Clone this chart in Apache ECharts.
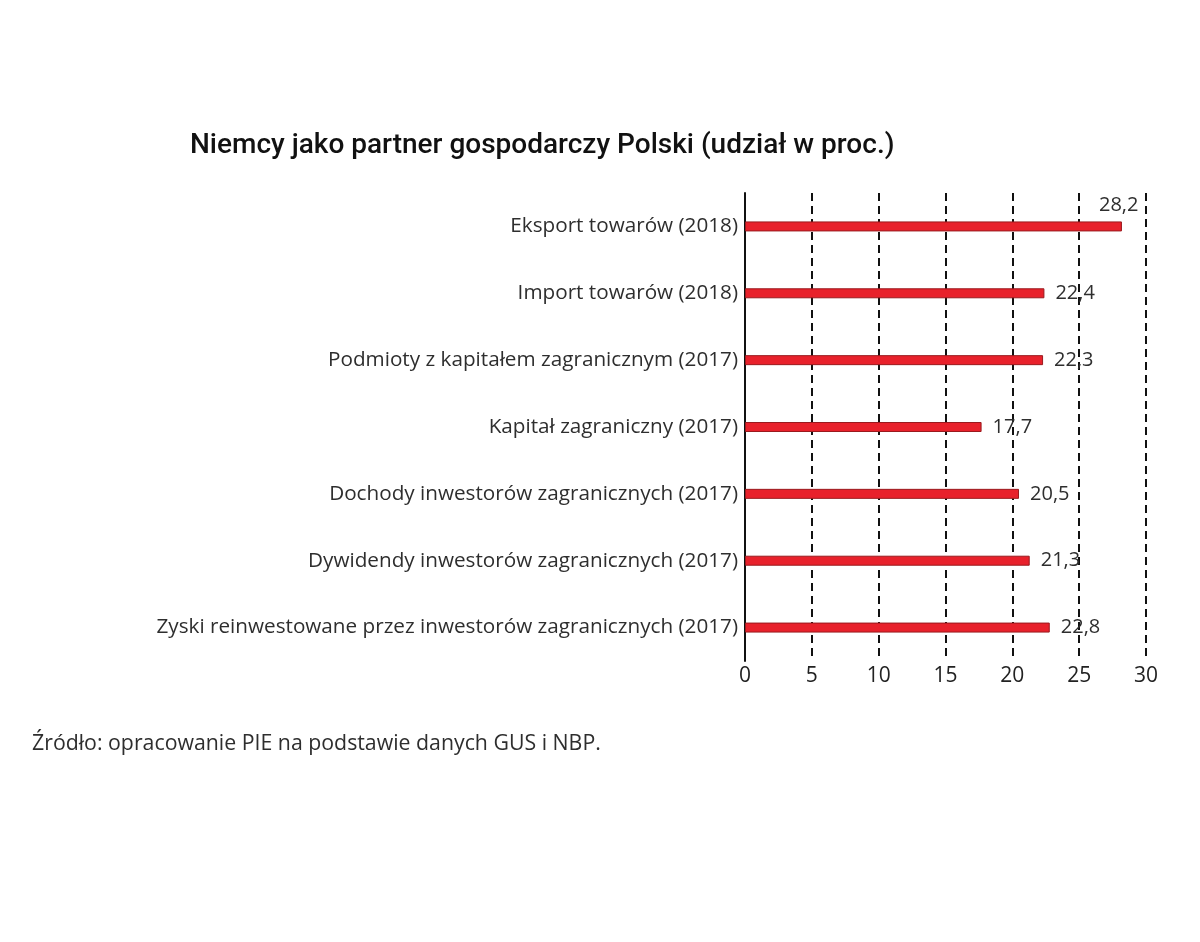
<!DOCTYPE html>
<html>
<head>
<meta charset="utf-8">
<script src="https://cdn.jsdelivr.net/npm/echarts@6/dist/echarts.min.js"></script>
<style>
html,body{margin:0;padding:0;background:#fff;}
#chart{width:1200px;height:942px;}
</style>
</head>
<body>
<div id="chart"></div>
<script>
const categories = [
  'Eksport towarów (2018)',
  'Import towarów (2018)',
  'Podmioty z kapitałem zagranicznym (2017)',
  'Kapitał zagraniczny (2017)',
  'Dochody inwestorów zagranicznych (2017)',
  'Dywidendy inwestorów zagranicznych (2017)',
  'Zyski reinwestowane przez inwestorów zagranicznych (2017)'
];
const values = [28.2, 22.4, 22.3, 17.7, 20.5, 21.3, 22.8];
const titleText = 'Niemcy jako partner gospodarczy Polski (udział w proc.)';
const sourceText = 'Źródło: opracowanie PIE na podstawie danych GUS i NBP.';

const chart = echarts.init(document.getElementById('chart'));
const barData = values.map((v, i) => {
  const item = { value: v };
  if (i === 0) {
    item.label = { offset: [-34, -21] };
  }
  return item;
});
chart.setOption({
  backgroundColor: '#ffffff',
  animation: false,
  title: [{
    text: titleText,
    left: 185, top: 127,
    textStyle: { fontFamily: 'Roboto', fontWeight: 500, fontSize: 28, color: '#111' }
  }, {
    text: sourceText,
    left: 27, top: 728,
    textStyle: { fontFamily: 'Open Sans', fontWeight: 400, fontSize: 21.3, color: '#2e2e2e' }
  }],
  grid: { left: 745, right: 54, top: 193, bottom: 281, containLabel: false },
  xAxis: {
    type: 'value', min: 0, max: 30, interval: 5,
    axisLine: { show: false },
    axisTick: { show: false },
    axisLabel: { fontFamily: 'Open Sans', fontWeight: 400, fontSize: 21, color: '#222', margin: 5 },
    splitLine: { show: true, lineStyle: { color: '#111', width: 2, type: [8, 5] } }
  },
  yAxis: {
    type: 'category', data: categories, inverse: true,
    axisLine: { show: true, lineStyle: { color: '#111', width: 2 } },
    axisTick: { show: false },
    axisLabel: { fontFamily: 'Open Sans', fontWeight: 400, fontSize: 20.7, color: '#2e2e2e', margin: 7 }
  },
  series: [{
    type: 'bar',
    data: barData,
    barWidth: 10,
    itemStyle: { color: '#e8212b', borderColor: '#9a1a1e', borderWidth: 1 },
    label: {
      show: true, position: 'right', distance: 11,
      formatter: p => String(p.value).replace('.', ','),
      fontFamily: 'Open Sans', fontWeight: 400, fontSize: 20, color: '#2e2e2e'
    }
  }]
});
</script>
</body>
</html>
